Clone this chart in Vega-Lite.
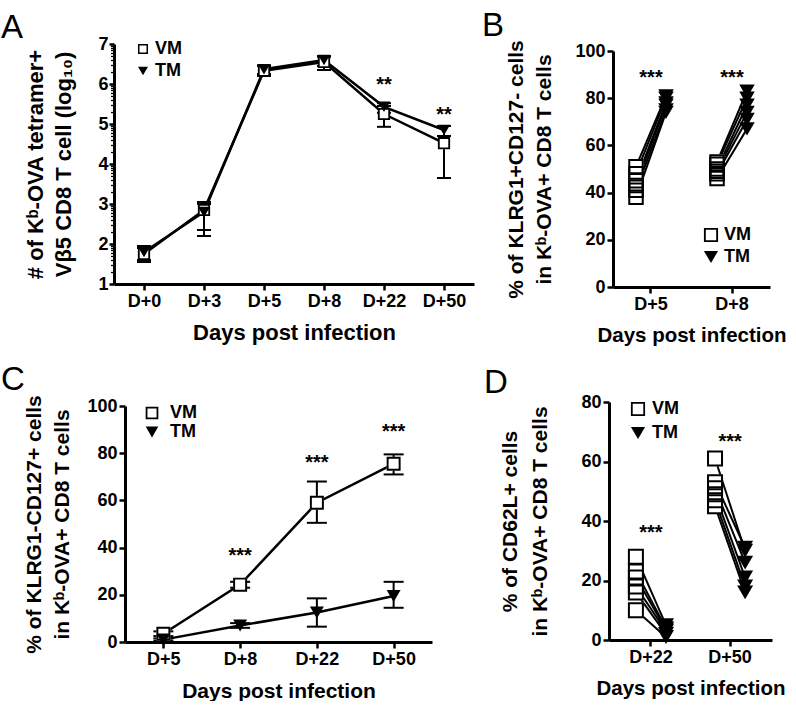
{
  "$schema": "https://vega.github.io/schema/vega-lite/v6.json",
  "padding": {"left": 1, "top": 9, "right": 0, "bottom": 0},
  "background": "white",
  "config": {
    "font": "Liberation Sans",
    "view": {"stroke": null},
    "axis": {
      "domainColor": "black", "domainWidth": 3, "tickColor": "black", "tickWidth": 2.5, "tickSize": 6,
      "labelColor": "black", "labelFont": "Liberation Sans", "labelFontWeight": "bold", "labelFontSize": 18, "labelPadding": 2,
      "titleColor": "black", "titleFont": "Liberation Sans", "titleFontWeight": "bold", "titleFontSize": 21,
      "grid": false
    },
    "axisX": {"labelAngle": 0, "titlePadding": 12},
    "axisY": {"titlePadding": 20, "titleLineHeight": 28},
    "title": {"font": "Liberation Sans", "fontSize": 33, "fontWeight": "normal", "anchor": "start", "frame": "group", "color": "black", "baseline": "alphabetic"},
    "legend": {"labelFont": "Liberation Sans", "labelFontSize": 18, "labelFontWeight": "bold", "labelColor": "black", "title": null, "orient": "none", "direction": "vertical", "rowPadding": 4, "labelOffset": 8}
  },
  "datasets": {
    "A": [
      {"day": "D+0", "group": "VM", "mean": 1.75, "lo": 1.55, "hi": 1.95},
      {"day": "D+3", "group": "VM", "mean": 2.85, "lo": 2.2, "hi": 3.05},
      {"day": "D+5", "group": "VM", "mean": 6.33, "lo": 6.2, "hi": 6.45},
      {"day": "D+8", "group": "VM", "mean": 6.55, "lo": 6.35, "hi": 6.68},
      {"day": "D+22", "group": "VM", "mean": 5.25, "lo": 4.93, "hi": 5.45},
      {"day": "D+50", "group": "VM", "mean": 4.52, "lo": 3.65, "hi": 4.95},
      {"day": "D+0", "group": "TM", "mean": 1.8, "lo": 1.6, "hi": 1.9},
      {"day": "D+3", "group": "TM", "mean": 2.8, "lo": 2.35, "hi": 3.0},
      {"day": "D+5", "group": "TM", "mean": 6.37, "lo": 6.25, "hi": 6.47},
      {"day": "D+8", "group": "TM", "mean": 6.6, "lo": 6.45, "hi": 6.7},
      {"day": "D+22", "group": "TM", "mean": 5.43, "lo": 5.28, "hi": 5.52},
      {"day": "D+50", "group": "TM", "mean": 4.85, "lo": 4.7, "hi": 4.95}
    ],
    "Astars": [
      {"day": "D+22", "label": "**", "y": 6.1},
      {"day": "D+50", "label": "**", "y": 5.35}
    ],
    "B": [
      {"day": "D+5", "mouse": "b5-1", "group": "VM", "value": 38},
      {"day": "D+5", "mouse": "b5-2", "group": "VM", "value": 41},
      {"day": "D+5", "mouse": "b5-3", "group": "VM", "value": 43},
      {"day": "D+5", "mouse": "b5-4", "group": "VM", "value": 45},
      {"day": "D+5", "mouse": "b5-5", "group": "VM", "value": 48},
      {"day": "D+5", "mouse": "b5-6", "group": "VM", "value": 51},
      {"day": "D+5", "mouse": "b5-1", "group": "TM", "value": 74},
      {"day": "D+5", "mouse": "b5-2", "group": "TM", "value": 75},
      {"day": "D+5", "mouse": "b5-3", "group": "TM", "value": 77},
      {"day": "D+5", "mouse": "b5-4", "group": "TM", "value": 78},
      {"day": "D+5", "mouse": "b5-5", "group": "TM", "value": 80},
      {"day": "D+5", "mouse": "b5-6", "group": "TM", "value": 81},
      {"day": "D+8", "mouse": "b8-1", "group": "VM", "value": 46},
      {"day": "D+8", "mouse": "b8-2", "group": "VM", "value": 48},
      {"day": "D+8", "mouse": "b8-3", "group": "VM", "value": 49},
      {"day": "D+8", "mouse": "b8-4", "group": "VM", "value": 50},
      {"day": "D+8", "mouse": "b8-5", "group": "VM", "value": 52},
      {"day": "D+8", "mouse": "b8-6", "group": "VM", "value": 53},
      {"day": "D+8", "mouse": "b8-1", "group": "TM", "value": 67},
      {"day": "D+8", "mouse": "b8-2", "group": "TM", "value": 71},
      {"day": "D+8", "mouse": "b8-3", "group": "TM", "value": 74},
      {"day": "D+8", "mouse": "b8-4", "group": "TM", "value": 77},
      {"day": "D+8", "mouse": "b8-5", "group": "TM", "value": 80},
      {"day": "D+8", "mouse": "b8-6", "group": "TM", "value": 83}
    ],
    "Bstars": [
      {"day": "D+5", "label": "***", "y": 90.7},
      {"day": "D+8", "label": "***", "y": 90.7}
    ],
    "C": [
      {"day": "D+5", "group": "VM", "mean": 3.5, "lo": 2.5, "hi": 4.5},
      {"day": "D+8", "group": "VM", "mean": 24.3, "lo": 23, "hi": 25.5},
      {"day": "D+22", "group": "VM", "mean": 59, "lo": 50.5, "hi": 68},
      {"day": "D+50", "group": "VM", "mean": 75.5, "lo": 71, "hi": 79.5},
      {"day": "D+5", "group": "TM", "mean": 1, "lo": 0.5, "hi": 1.5},
      {"day": "D+8", "group": "TM", "mean": 7, "lo": 6, "hi": 8},
      {"day": "D+22", "group": "TM", "mean": 12.5, "lo": 6.5, "hi": 18.5},
      {"day": "D+50", "group": "TM", "mean": 19.5, "lo": 14.5, "hi": 25.5}
    ],
    "Cstars": [
      {"day": "D+8", "label": "***", "y": 38.6},
      {"day": "D+22", "label": "***", "y": 78},
      {"day": "D+50", "label": "***", "y": 91}
    ],
    "D": [
      {"day": "D+22", "mouse": "d22-1", "group": "VM", "value": 28},
      {"day": "D+22", "mouse": "d22-2", "group": "VM", "value": 23},
      {"day": "D+22", "mouse": "d22-3", "group": "VM", "value": 21},
      {"day": "D+22", "mouse": "d22-4", "group": "VM", "value": 18},
      {"day": "D+22", "mouse": "d22-5", "group": "VM", "value": 16},
      {"day": "D+22", "mouse": "d22-6", "group": "VM", "value": 10},
      {"day": "D+22", "mouse": "d22-1", "group": "TM", "value": 5},
      {"day": "D+22", "mouse": "d22-2", "group": "TM", "value": 4},
      {"day": "D+22", "mouse": "d22-3", "group": "TM", "value": 3.5},
      {"day": "D+22", "mouse": "d22-4", "group": "TM", "value": 3},
      {"day": "D+22", "mouse": "d22-5", "group": "TM", "value": 2},
      {"day": "D+22", "mouse": "d22-6", "group": "TM", "value": 1},
      {"day": "D+50", "mouse": "d50-1", "group": "VM", "value": 61},
      {"day": "D+50", "mouse": "d50-2", "group": "VM", "value": 53},
      {"day": "D+50", "mouse": "d50-3", "group": "VM", "value": 51},
      {"day": "D+50", "mouse": "d50-4", "group": "VM", "value": 49},
      {"day": "D+50", "mouse": "d50-5", "group": "VM", "value": 47},
      {"day": "D+50", "mouse": "d50-6", "group": "VM", "value": 45},
      {"day": "D+50", "mouse": "d50-1", "group": "TM", "value": 30},
      {"day": "D+50", "mouse": "d50-2", "group": "TM", "value": 31},
      {"day": "D+50", "mouse": "d50-3", "group": "TM", "value": 26},
      {"day": "D+50", "mouse": "d50-4", "group": "TM", "value": 21},
      {"day": "D+50", "mouse": "d50-5", "group": "TM", "value": 18},
      {"day": "D+50", "mouse": "d50-6", "group": "TM", "value": 16}
    ],
    "Dstars": [
      {"day": "D+22", "label": "***", "y": 37.6},
      {"day": "D+50", "label": "***", "y": 68.2}
    ]
  },
  "columns": 1,
  "align": "none",
  "spacing": 17,
  "resolve": {
    "scale": {"x": "independent", "y": "independent", "shape": "independent", "xOffset": "independent"},
    "legend": {"shape": "independent"}
  },
  "concat": [
    {
      "columns": 2,
      "align": "none",
      "spacing": 8,
      "resolve": {
        "scale": {"x": "independent", "y": "independent", "shape": "independent", "xOffset": "independent"},
        "legend": {"shape": "independent"}
      },
      "concat": [
        {
          "width": 360, "height": 240,
          "title": {"text": "A", "dx": -113, "offset": -10},
          "data": {"name": "A"},
          "encoding": {
            "x": {"field": "day", "type": "ordinal", "scale": {"type": "point", "domain": ["D+0", "D+3", "D+5", "D+8", "D+22", "D+50"], "padding": 0.5}, "axis": {"title": "Days post infection", "titleFontSize": 22}}
          },
          "resolve": {"axis": {"y": "independent"}},
          "layer": [
            {
              "mark": {"type": "rule", "color": "black", "strokeWidth": 2},
              "encoding": {
                "y": {"field": "lo", "type": "quantitative", "scale": {"domain": [1, 7], "nice": false, "zero": false},
                  "axis": {"orient": "left", "title": null, "labels": false, "domain": false, "tickSize": 3.5, "tickWidth": 1.3,
                    "values": [1.301, 1.477, 1.602, 1.699, 1.778, 1.845, 1.903, 1.954, 2.301, 2.477, 2.602, 2.699, 2.778, 2.845, 2.903, 2.954, 3.301, 3.477, 3.602, 3.699, 3.778, 3.845, 3.903, 3.954, 4.301, 4.477, 4.602, 4.699, 4.778, 4.845, 4.903, 4.954, 5.301, 5.477, 5.602, 5.699, 5.778, 5.845, 5.903, 5.954, 6.301, 6.477, 6.602, 6.699, 6.778, 6.845, 6.903, 6.954]}},
                "y2": {"field": "hi"}
              }
            },
            {
              "mark": {"type": "tick", "color": "black", "thickness": 2, "size": 14, "opacity": 1},
              "encoding": {"y": {"field": "lo", "type": "quantitative", "axis": null}}
            },
            {
              "mark": {"type": "tick", "color": "black", "thickness": 2, "size": 14, "opacity": 1},
              "encoding": {"y": {"field": "hi", "type": "quantitative", "axis": null}}
            },
            {
              "mark": {"type": "line", "color": "black", "strokeWidth": 2.5},
              "encoding": {
                "y": {"field": "mean", "type": "quantitative",
                  "axis": {"orient": "left", "values": [1, 2, 3, 4, 5, 6, 7], "tickSize": 5, "labelPadding": 1, "title": ["# of Kᵇ-OVA tetramer+", "Vβ5 CD8 T cell (log₁₀)"], "titleFontSize": 22, "titlePadding": 22}},
                "detail": {"field": "group"},
                "order": {"value": null}
              }
            },
            {
              "transform": [{"filter": "datum.group === 'VM'"}],
              "mark": {"type": "point", "shape": "square", "filled": true, "color": "white", "size": 144, "opacity": 1},
              "encoding": {"y": {"field": "mean", "type": "quantitative", "axis": null}}
            },
            {
              "mark": {"type": "point", "filled": true, "color": "black", "size": 150, "opacity": 1},
              "encoding": {
                "y": {"field": "mean", "type": "quantitative", "axis": null},
                "shape": {"field": "group", "type": "nominal", "scale": {"domain": ["VM", "TM"], "range": ["M-1,-1H1V1H-1Z M-0.7,-0.7V0.7H0.7V-0.7Z", "triangle-down"]},
                  "legend": {"legendX": 20, "legendY": -4, "symbolSize": 100, "rowPadding": 4, "labelOffset": 3,
                    "encode": {"symbols": {"fill": {"value": "black"},
                      "shape": {"condition": {"test": "datum.value === 'VM'", "value": "M-1,-1H1V1H-1Z M-0.7,-0.7V0.7H0.7V-0.7Z M-1.7,-0.15H-1V0.15H-1.7Z M1,-0.15H1.7V0.15H1Z"}, "value": "M0,0.95L-1.1,-0.75H1.1Z M-1.7,-0.55H1.7V-0.25H-1.7Z"}}}}}
              }
            },
            {
              "data": {"name": "Astars"},
              "mark": {"type": "text", "fontSize": 20, "fontWeight": "bold", "baseline": "alphabetic", "dy": 11, "color": "black"},
              "encoding": {"y": {"field": "y", "type": "quantitative", "axis": null}, "text": {"field": "label"}}
            }
          ]
        },
        {
          "width": 157, "height": 243,
          "title": {"text": "B", "dx": -131, "offset": -3},
          "data": {"name": "B"},
          "encoding": {
            "x": {"field": "day", "type": "nominal", "scale": {"type": "band", "domain": ["D+5", "D+8"], "paddingInner": 0.63, "paddingOuter": 0.284}, "axis": {"title": "Days post infection", "titleFontSize": 20.5}},
            "y": {"field": "value", "type": "quantitative", "scale": {"domain": [0, 100], "nice": false, "range": [243, 7]},
              "axis": {"values": [0, 20, 40, 60, 80, 100], "title": ["% of KLRG1+CD127- cells", "in Kᵇ-OVA+ CD8 T cells"]}}
          },
          "layer": [
            {
              "mark": {"type": "line", "color": "black", "strokeWidth": 2},
              "encoding": {
                "xOffset": {"field": "group", "type": "nominal", "scale": {"type": "point", "domain": ["VM", "TM"], "padding": 0}},
                "detail": {"field": "mouse"}
              }
            },
            {
              "transform": [{"filter": "datum.group === 'VM'"}],
              "mark": {"type": "point", "shape": "square", "filled": true, "color": "white", "size": 235, "opacity": 1},
              "encoding": {
                "xOffset": {"field": "group", "type": "nominal", "scale": {"type": "point", "domain": ["VM", "TM"], "padding": 0}}
              }
            },
            {
              "mark": {"type": "point", "filled": true, "color": "black", "size": 240, "opacity": 1},
              "encoding": {
                "xOffset": {"field": "group", "type": "nominal", "scale": {"type": "point", "domain": ["VM", "TM"], "padding": 0}},
                "shape": {"field": "group", "type": "nominal", "scale": {"domain": ["VM", "TM"], "range": ["M-1,-1H1V1H-1Z M-0.74,-0.74V0.74H0.74V-0.74Z", "triangle-down"]},
                  "legend": {"legendX": 89, "legendY": 182, "symbolSize": 200, "rowPadding": 1, "labelOffset": 4,
                    "encode": {"symbols": {"fill": {"value": "black"},
                      "shape": {"condition": {"test": "datum.value === 'VM'", "value": "M-1,-1H1V1H-1Z M-0.74,-0.74V0.74H0.74V-0.74Z M-1.45,-0.13H-1V0.13H-1.45Z M1,-0.13H1.45V0.13H1Z"}, "value": "M0,0.95L-1.1,-0.75H1.1Z M-1.45,-0.5H1.45V-0.24H-1.45Z"}}}}}
              }
            },
            {
              "data": {"name": "Bstars"},
              "mark": {"type": "text", "fontSize": 20, "fontWeight": "bold", "baseline": "alphabetic", "dy": 11, "color": "black"},
              "encoding": {"y": {"field": "y", "type": "quantitative"}, "text": {"field": "label"}}
            }
          ]
        }
      ]
    },
    {
      "columns": 2,
      "align": "none",
      "spacing": 52,
      "resolve": {
        "scale": {"x": "independent", "y": "independent", "shape": "independent", "xOffset": "independent"},
        "legend": {"shape": "independent"}
      },
      "concat": [
        {
          "width": 318, "height": 240,
          "title": {"text": "C", "dx": -113, "offset": -2},
          "data": {"name": "C"},
          "encoding": {
            "x": {"field": "day", "type": "ordinal", "scale": {"type": "point", "domain": ["D+5", "D+8", "D+22", "D+50"], "padding": 0.5, "range": [11, 318]}, "axis": {"title": "Days post infection"}}
          },
          "layer": [
            {
              "mark": {"type": "rule", "color": "black", "strokeWidth": 2},
              "encoding": {
                "y": {"field": "lo", "type": "quantitative", "scale": {"domain": [0, 100], "nice": false, "range": [240, 4]},
                  "axis": {"values": [0, 20, 40, 60, 80, 100], "offset": -11, "titlePadding": 14, "title": ["% of KLRG1-CD127+ cells", "in Kᵇ-OVA+ CD8 T cells"]}},
                "y2": {"field": "hi"}
              }
            },
            {
              "mark": {"type": "tick", "color": "black", "thickness": 2, "size": 20, "opacity": 1},
              "encoding": {"y": {"field": "lo", "type": "quantitative"}}
            },
            {
              "mark": {"type": "tick", "color": "black", "thickness": 2, "size": 20, "opacity": 1},
              "encoding": {"y": {"field": "hi", "type": "quantitative"}}
            },
            {
              "mark": {"type": "line", "color": "black", "strokeWidth": 2.5},
              "encoding": {
                "y": {"field": "mean", "type": "quantitative"},
                "detail": {"field": "group"},
                "order": {"value": null}
              }
            },
            {
              "transform": [{"filter": "datum.group === 'VM'"}],
              "mark": {"type": "point", "shape": "square", "filled": true, "color": "white", "size": 190, "opacity": 1},
              "encoding": {"y": {"field": "mean", "type": "quantitative"}}
            },
            {
              "mark": {"type": "point", "filled": true, "color": "black", "size": 195, "opacity": 1},
              "encoding": {
                "y": {"field": "mean", "type": "quantitative"},
                "shape": {"field": "group", "type": "nominal", "scale": {"domain": ["VM", "TM"], "range": ["M-1,-1H1V1H-1Z M-0.72,-0.72V0.72H0.72V-0.72Z", "triangle-down"]},
                  "legend": {"legendX": 29, "legendY": 2, "symbolSize": 160, "rowPadding": -1, "labelOffset": 9,
                    "encode": {"symbols": {"fill": {"value": "black"},
                      "shape": {"condition": {"test": "datum.value === 'VM'", "value": "M-1,-1H1V1H-1Z M-0.72,-0.72V0.72H0.72V-0.72Z M-1.5,-0.15H-1V0.15H-1.5Z M1,-0.15H1.5V0.15H1Z"}, "value": "M0,0.95L-1.1,-0.75H1.1Z M-1.5,-0.55H1.5V-0.25H-1.5Z"}}}}}
              }
            },
            {
              "data": {"name": "Cstars"},
              "mark": {"type": "text", "fontSize": 20, "fontWeight": "bold", "baseline": "alphabetic", "dy": 11, "color": "black"},
              "encoding": {"y": {"field": "y", "type": "quantitative"}, "text": {"field": "label"}}
            }
          ]
        },
        {
          "width": 163, "height": 238,
          "title": {"text": "D", "dx": -125, "offset": -7},
          "data": {"name": "D"},
          "encoding": {
            "x": {"field": "day", "type": "nominal", "scale": {"type": "band", "domain": ["D+22", "D+50"], "paddingInner": 0.62, "paddingOuter": 0.34}, "axis": {"title": "Days post infection", "titleFontSize": 20.5}},
            "y": {"field": "value", "type": "quantitative", "scale": {"domain": [0, 80], "nice": false},
              "axis": {"values": [0, 20, 40, 60, 80], "titlePadding": 30, "titleLineHeight": 30, "title": ["% of CD62L+ cells", "in Kᵇ-OVA+ CD8 T cells"]}}
          },
          "layer": [
            {
              "mark": {"type": "line", "color": "black", "strokeWidth": 2},
              "encoding": {
                "xOffset": {"field": "group", "type": "nominal", "scale": {"type": "point", "domain": ["VM", "TM"], "padding": 0}},
                "detail": {"field": "mouse"}
              }
            },
            {
              "transform": [{"filter": "datum.group === 'VM'"}],
              "mark": {"type": "point", "shape": "square", "filled": true, "color": "white", "size": 250, "opacity": 1},
              "encoding": {
                "xOffset": {"field": "group", "type": "nominal", "scale": {"type": "point", "domain": ["VM", "TM"], "padding": 0}}
              }
            },
            {
              "mark": {"type": "point", "filled": true, "color": "black", "size": 256, "opacity": 1},
              "encoding": {
                "xOffset": {"field": "group", "type": "nominal", "scale": {"type": "point", "domain": ["VM", "TM"], "padding": 0}},
                "shape": {"field": "group", "type": "nominal", "scale": {"domain": ["VM", "TM"], "range": ["M-1,-1H1V1H-1Z M-0.75,-0.75V0.75H0.75V-0.75Z", "triangle-down"]},
                  "legend": {"legendX": 20, "legendY": -2, "symbolSize": 200, "rowPadding": 3, "labelOffset": 5,
                    "encode": {"symbols": {"fill": {"value": "black"},
                      "shape": {"condition": {"test": "datum.value === 'VM'", "value": "M-1,-1H1V1H-1Z M-0.74,-0.74V0.74H0.74V-0.74Z M-1.45,-0.13H-1V0.13H-1.45Z M1,-0.13H1.45V0.13H1Z"}, "value": "M0,0.95L-1.1,-0.75H1.1Z M-1.45,-0.5H1.45V-0.24H-1.45Z"}}}}}
              }
            },
            {
              "data": {"name": "Dstars"},
              "mark": {"type": "text", "fontSize": 20, "fontWeight": "bold", "baseline": "alphabetic", "dy": 11, "color": "black"},
              "encoding": {"y": {"field": "y", "type": "quantitative"}, "text": {"field": "label"}}
            }
          ]
        }
      ]
    }
  ]
}
